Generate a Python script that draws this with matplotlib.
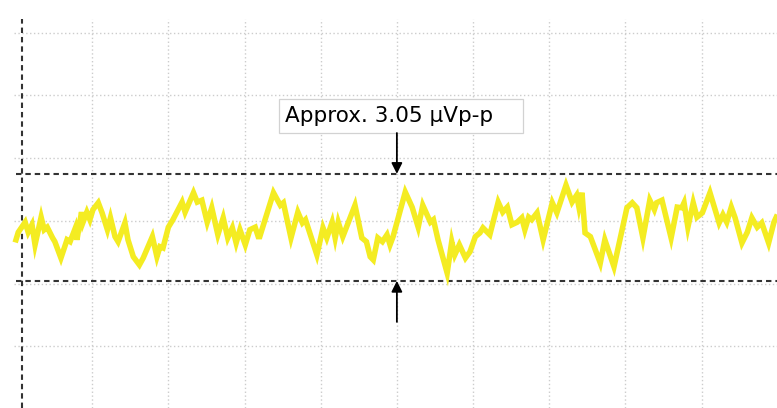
import matplotlib
matplotlib.use("Agg")
import matplotlib.pyplot as plt
from matplotlib.patches import Rectangle

# trace, in divisions (x: time div, y: vertical div)
t_div = [-1.00, -0.97, -0.88, -0.84, -0.79, -0.75, -0.67, -0.63, -0.59, -0.52,
         -0.49, -0.41, -0.33, -0.29, -0.22, -0.20, -0.14, -0.12, -0.07, -0.03,
         0.01, 0.08, 0.13, 0.20, 0.24, 0.30, 0.34, 0.43, 0.47, 0.54,
         0.62, 0.67, 0.79, 0.85, 0.89, 0.93, 1.00, 1.06, 1.18, 1.22,
         1.33, 1.38, 1.44, 1.51, 1.57, 1.65, 1.72, 1.78, 1.84, 1.89,
         1.94, 2.01, 2.07, 2.14, 2.18, 2.20, 2.38, 2.47, 2.51, 2.61,
         2.70, 2.76, 2.80, 2.95, 3.03, 3.08, 3.15, 3.19, 3.23, 3.29,
         3.45, 3.54, 3.60, 3.65, 3.69, 3.75, 3.81, 3.87, 3.91, 3.95,
         4.11, 4.20, 4.28, 4.34, 4.44, 4.48, 4.54, 4.66, 4.72, 4.76,
         4.82, 4.90, 4.96, 5.03, 5.09, 5.13, 5.22, 5.33, 5.39, 5.45,
         5.51, 5.58, 5.64, 5.68, 5.73, 5.77, 5.84, 5.92, 6.04, 6.10,
         6.22, 6.30, 6.36, 6.39, 6.43, 6.47, 6.54, 6.67, 6.73, 6.85,
         7.02, 7.09, 7.15, 7.23, 7.32, 7.38, 7.41, 7.48, 7.52, 7.60,
         7.68, 7.74, 7.77, 7.82, 7.89, 7.94, 8.01, 8.11, 8.16, 8.23,
         8.28, 8.33, 8.39, 8.44, 8.53, 8.60, 8.66, 8.73, 8.79, 8.88,
         8.95, 8.98]
v_div = [-0.30, -0.18, -0.02, -0.18, -0.06, -0.38, 0.06, -0.14, -0.10, -0.27,
         -0.33, -0.59, -0.30, -0.33, -0.11, -0.30, 0.14, -0.02, 0.14, 0.02,
         0.18, 0.29, 0.13, -0.14, 0.05, -0.25, -0.33, -0.03, -0.30, -0.57,
         -0.70, -0.59, -0.25, -0.57, -0.41, -0.43, -0.10, 0.02, 0.30, 0.14,
         0.45, 0.30, 0.33, -0.02, 0.21, -0.22, 0.05, -0.27, -0.11, -0.35,
         -0.14, -0.38, -0.14, -0.10, -0.25, -0.25, 0.45, 0.25, 0.29, -0.27,
         0.14, -0.03, 0.02, -0.54, -0.11, -0.27, -0.02, -0.27, -0.02, -0.25,
         0.25, -0.27, -0.33, -0.57, -0.62, -0.27, -0.33, -0.22, -0.38, -0.25,
         0.46, 0.22, -0.10, 0.25, -0.02, 0.02, -0.30, -0.83, -0.33, -0.54,
         -0.38, -0.59, -0.49, -0.25, -0.19, -0.11, -0.22, 0.30, 0.14, 0.22,
         -0.06, -0.02, 0.05, -0.14, 0.06, 0.02, 0.13, -0.30, 0.29, 0.13,
         0.57, 0.30, 0.41, 0.22, 0.45, -0.19, -0.25, -0.67, -0.30, -0.73,
         0.21, 0.29, 0.21, -0.27, 0.33, 0.18, 0.29, 0.33, 0.13, -0.27,
         0.22, 0.21, 0.29, -0.10, 0.29, 0.06, 0.13, 0.45, 0.25, -0.03,
         0.10, -0.02, 0.22, 0.05, -0.35, -0.18, 0.05, -0.10, -0.03, -0.35,
         -0.02, 0.06]

grid_x = [0, 1, 2, 3, 4, 5, 6, 7, 8]
grid_y = [-3, -2, -1, 0, 1, 2, 3]
upper_level = 0.75
lower_level = -0.955
cursor_x = -0.92
label = "Approx. 3.05 \u00b5Vp-p"

fig = plt.figure(figsize=(7.77, 4.08), dpi=100)
ax = fig.add_axes([0, 0, 1, 1])
ax.set_xlim(-1.21, 8.99)
ax.set_ylim(-2.98, 3.52)
ax.axis("off")

grid_kw = dict(color="#cccccc", lw=1.0, linestyle=(0, (1, 1.8)), zorder=1)
ax.vlines(grid_x, -2.98, 3.21, **grid_kw)
ax.hlines(grid_y, -1.02, 8.99, **grid_kw)

dash_kw = dict(color="#333333", lw=1.5, linestyle=(0, (2.6, 1.9)), zorder=2)
ax.hlines([upper_level, lower_level], -1.0, 8.99, **dash_kw)
ax.vlines([cursor_x], -2.98, 3.21, **dash_kw)

ax.plot(t_div, v_div, color="#f4ec22", lw=4.0, solid_joinstyle="miter", zorder=3)

# label box and arrows
ax.add_patch(Rectangle((2.454, 1.401), 3.2, 0.542, facecolor="white",
                       edgecolor="#d2d2d2", lw=0.9, zorder=4))
ax.text(2.533, 1.577, label, fontsize=15.5, family="DejaVu Sans",
        va="baseline", ha="left", color="black", zorder=5)

arrow_kw = dict(arrowstyle="-|>", mutation_scale=16, lw=1.3, color="black",
                shrinkA=0, shrinkB=0)
ax.annotate("", xy=(4.0, upper_level), xytext=(4.0, 1.401),
            arrowprops=arrow_kw, zorder=5)
ax.annotate("", xy=(4.0, lower_level), xytext=(4.0, -1.608),
            arrowprops=arrow_kw, zorder=5)

fig.savefig("out.png", dpi=100)
